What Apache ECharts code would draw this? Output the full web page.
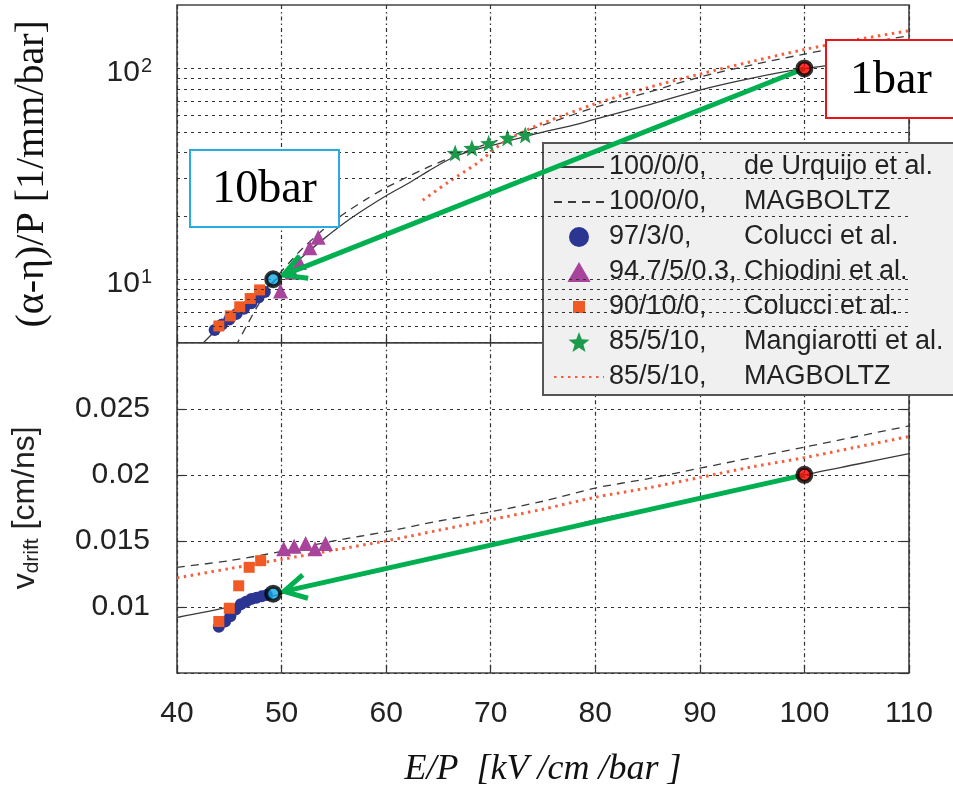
<!DOCTYPE html>
<html>
<head>
<meta charset="utf-8">
<script src="https://cdn.jsdelivr.net/npm/echarts@6/dist/echarts.min.js"></script>
<style>
html,body{margin:0;padding:0;background:#fff}
#chart{width:953px;height:789px}
</style>
</head>
<body>
<div id="chart"></div>
<script>
// ---- axis ranges / ticks ----
const xTicks = [40, 50, 60, 70, 80, 90, 100, 110];
const topGridValues = [6, 7, 8, 9, 10, 20, 30, 40, 50, 60, 70, 80, 90, 100];
const vTicks = [0.005, 0.010, 0.015, 0.020, 0.025, 0.030];

// ---- legend entries: gas mixture, source ----
const legendCodes = ['100/0/0,', '100/0/0,', '97/3/0,', '94.7/5/0.3,', '90/10/0,', '85/5/10,', '85/5/10,'];
const legendRefs = ['de Urquijo et al.', 'MAGBOLTZ', 'Colucci et al.', 'Chiodini et al.', 'Colucci et al.', 'Mangiarotti et al.', 'MAGBOLTZ'];

// ---- (alpha-eta)/P [1/mm/bar] vs E/P ----
const alphaUrquijo = [[42.0,4.7],[44,5.9],[46,7.2],[48,8.7],[50,10.5],[52,12.8],[54,15.5],[56,18.5],[58,21.6],[60,24.9],[62,28.3],[64,32.5],[66,37],[68,40.5],[70,43],[74,48.5],[78,54],[80,57.5],[85,67],[90,79],[95,90],[100,100],[105,107],[110,114]];
const alphaMagPure = [[45.6,4.8],[46.8,6.2],[47.8,7.6],[48.8,9.0],[49.8,10.6],[51,12.4],[52,14],[54,17.2],[56,20.5],[58,23.8],[60,27.2],[64,34],[68,41],[72,48],[76,56],[80,65.5],[85,77],[90,91],[95,104],[100,117],[105,130],[110,143]];
const alphaMagMix = [[63.5,23.7],[66,29],[68.7,35.5],[71.2,44.5],[74,52.5],[77,60],[80,68],[85,81],[90,94],[95,108],[100,123],[105,137],[110,151]];
const alphaColucci97 = [[43.6,5.75],[44.3,6.1],[45.0,6.45],[45.7,6.85],[46.4,7.25],[47.1,7.7],[47.8,8.2],[48.4,8.7]];
const alphaChiodini = [[49.9,8.8],[51.0,10.8],[51.7,12.0],[52.7,14.1],[53.5,15.8]];
const alphaColucci90 = [[44.0,6.0],[45.1,6.7],[46.0,7.4],[47.0,8.1],[47.9,8.9]];
const alphaMangiarotti = [[66.6,39.7],[68.2,41.9],[69.8,44.2],[71.6,46.8],[73.3,48.4]];

// ---- drift velocity [cm/ns] vs E/P ----
const vUrquijo = [[40,0.0092],[45,0.0100],[49,0.0108],[53,0.0116],[57,0.0123],[58,0.01245],[60,0.0128],[65,0.0138],[70,0.0147],[75,0.0155],[80,0.0166],[85,0.0174],[90,0.0182],[95,0.0191],[100,0.0200],[105,0.0208],[110,0.0216]];
const vMagPure = [[40,0.0130],[45,0.0135],[50,0.0142],[55,0.0150],[60,0.0157],[65,0.0165],[70,0.0172],[75,0.0180],[80,0.0190],[85,0.0197],[90,0.0205],[95,0.0213],[100,0.0221],[105,0.0229],[110,0.0237]];
const vMagMix = [[40,0.0122],[45,0.0129],[50,0.0136],[55,0.0143],[60,0.0150],[65,0.0158],[70,0.0166],[75,0.0174],[80,0.0183],[85,0.0190],[90,0.0198],[95,0.0206],[100,0.0213],[105,0.0221],[110,0.0229]];
const vColucci97 = [[44.0,0.0085],[44.6,0.0089],[45.1,0.0093],[45.6,0.0098],[46.1,0.0102],[46.6,0.0104],[47.1,0.0106],[47.6,0.0107],[48.1,0.0108],[48.6,0.0109]];
const vChiodini = [[50.2,0.0144],[51.2,0.0146],[52.3,0.0148],[53.2,0.0144],[54.2,0.0148]];
const vColucci90 = [[44.0,0.0089],[45.0,0.0099],[45.9,0.0116],[46.9,0.0130],[48.0,0.0135]];

// ---- 1 bar -> 10 bar working points ----
const alphaArrow = [[100, 100, 49.2, 10]];
const vArrow = [[100, 0.020, 49.2, 0.011]];
const alphaAt1bar = [[100, 100]];
const alphaAt10bar = [[49.2, 10]];
const vAt1bar = [[100, 0.020]];
const vAt10bar = [[49.2, 0.011]];

const names = legendCodes.map((c, i) => c + ' ' + legendRefs[i]);

const C = {
  frame: '#444', grid: '#333', curve: '#3a3a3a',
  blue: '#2b3592', purple: '#a8449b', orange: '#f15a24', green: '#1d9a4b',
  dotted: '#f2603f', arrow: '#00b050'
};

const starPath = 'path://M10,0 L12.6,7 L20,7.3 L14.2,11.9 L16.2,19 L10,14.9 L3.8,19 L5.8,11.9 L0,7.3 L7.4,7 Z';
const trianglePath = 'path://M11,0 L22,19 L0,19 Z';
const legendSquare = 'path://M0,0 M20,20 M4,4 L16,4 L16,16 L4,16 Z';
const legendIcons = [null, null, 'circle', trianglePath, legendSquare, starPath, null];

function arrowItem(params, api) {
  const a = api.coord([api.value(0), api.value(1)]);
  const b = api.coord([api.value(2), api.value(3)]);
  const dx = a[0] - b[0], dy = a[1] - b[1];
  const len = Math.hypot(dx, dy);
  const ux = dx / len, uy = dy / len;
  const tip = [b[0] + ux * 11, b[1] + uy * 11];
  const ang = 0.5, L = 25;
  const rot = (x, y, t) => [x * Math.cos(t) - y * Math.sin(t), x * Math.sin(t) + y * Math.cos(t)];
  const w1 = rot(ux, uy, ang), w2 = rot(ux, uy, -ang);
  const st = { stroke: C.arrow, lineWidth: 5, fill: null, lineJoin: 'miter' };
  return {
    type: 'group',
    children: [
      { type: 'line', shape: { x1: a[0], y1: a[1], x2: tip[0], y2: tip[1] }, style: st },
      { type: 'polyline', shape: { points: [[tip[0] + w1[0] * L, tip[1] + w1[1] * L], tip, [tip[0] + w2[0] * L, tip[1] + w2[1] * L]] }, style: st }
    ]
  };
}

function lineSeries(name, data, g, style) {
  return Object.assign({
    name, type: 'line', xAxisIndex: g, yAxisIndex: g, data,
    symbol: 'none', smooth: 0.3, z: 2, silent: true
  }, style);
}
function scatterSeries(name, data, g, symbol, size, color) {
  return { name, type: 'scatter', xAxisIndex: g, yAxisIndex: g, data, symbol, symbolSize: size, z: 3, silent: true, itemStyle: { color, opacity: 1 } };
}

const solidStyle = { lineStyle: { color: C.curve, width: 1.3 }, itemStyle: { color: C.curve } };
const dashStyle = { lineStyle: { color: C.curve, width: 1.3, type: [8, 6] }, itemStyle: { color: C.curve } };
const dotStyle = { lineStyle: { color: C.dotted, width: 3, type: [2.5, 4.5] }, itemStyle: { color: C.dotted } };

const xCommon = {
  type: 'value', min: 40, max: 110, interval: 10,
  axisLine: { show: false },
  axisTick: { show: true, inside: true, length: 8, lineStyle: { color: C.grid, width: 1.2 } },
  splitLine: { show: true, lineStyle: { color: C.grid, width: 1.2, type: [4, 3, 1.5, 3] } }
};

const option = {
  animation: false,
  backgroundColor: '#fff',
  textStyle: { fontFamily: 'Liberation Sans' },
  grid: [
    { left: 177, top: 5, width: 732, height: 337.7, show: true, borderColor: C.frame, borderWidth: 1.6, backgroundColor: 'transparent', outerBoundsMode: 'none' },
    { left: 177, top: 342.7, width: 732, height: 330.3, show: true, borderColor: C.frame, borderWidth: 1.6, backgroundColor: 'transparent', outerBoundsMode: 'none' }
  ],
  legend: {
    orient: 'vertical', left: 543, top: 143,
    padding: [9, 10, 3, 10], itemGap: 5, itemWidth: 50, itemHeight: 20,
    backgroundColor: '#f0f0f0', borderColor: '#555', borderWidth: 2,
    selectedMode: false, z: 4,
    data: names.map((n, i) => legendIcons[i]
      ? { name: n, icon: legendIcons[i] }
      : { name: n, itemStyle: { opacity: 0 } }),
    formatter: (n) => {
      const i = names.indexOf(n);
      return '{a|' + legendCodes[i] + '}{b|' + legendRefs[i] + '}';
    },
    textStyle: {
      fontSize: 27, color: '#222', lineHeight: 30, fontFamily: 'Liberation Sans',
      rich: {
        a: { width: 135, fontSize: 27, lineHeight: 30, color: '#222', fontFamily: 'Liberation Sans' },
        b: { width: 200, fontSize: 27, lineHeight: 30, color: '#222', fontFamily: 'Liberation Sans' }
      }
    }
  },
  xAxis: [
    Object.assign({ gridIndex: 0, axisLabel: { show: false } }, xCommon),
    Object.assign({
      gridIndex: 1,
      axisLabel: { show: true, fontSize: 30, margin: 26, color: '#222', fontFamily: 'Liberation Sans' },
      name: 'E/P  [kV /cm /bar ]', nameLocation: 'middle', nameGap: 79,
      nameTextStyle: { fontFamily: 'Liberation Serif', fontStyle: 'italic', fontSize: 36, color: '#111' }
    }, xCommon)
  ],
  yAxis: [
    {
      gridIndex: 0, type: 'log', logBase: 10, min: 5, max: 200,
      axisLine: { show: false }, axisTick: { show: false }, splitLine: { show: false },
      axisLabel: {
        showMinLabel: false, showMaxLabel: false, margin: 25, color: '#222',
        formatter: (v) => {
          const e = Math.round(Math.log10(v));
          return '{b|10}{s|' + e + '}';
        },
        rich: {
          b: { fontSize: 30, fontFamily: 'Liberation Sans', color: '#222', padding: [8, 0, 0, 0] },
          s: { fontSize: 20, fontFamily: 'Liberation Sans', color: '#222', padding: [0, 0, 4, 1] }
        }
      },
      name: '(α-η)/P [1/mm/bar]', nameLocation: 'middle', nameGap: 125,
      nameTextStyle: { fontFamily: 'Liberation Serif', fontSize: 40, color: '#111' }
    },
    {
      gridIndex: 1, type: 'value', min: 0.005, max: 0.030, interval: 0.005,
      axisLine: { show: false },
      axisTick: { show: true, inside: true, length: 8, lineStyle: { color: C.grid, width: 1.2 } },
      splitLine: { show: true, lineStyle: { color: C.grid, width: 1.2, type: [3, 4] } },
      axisLabel: {
        showMinLabel: false, showMaxLabel: false, margin: 27, fontSize: 30, color: '#222', fontFamily: 'Liberation Sans',
        formatter: (v) => String(+v.toFixed(3))
      },
      name: 'v{sub|drift} [cm/ns]', nameLocation: 'middle', nameGap: 134,
      nameTextStyle: {
        fontFamily: 'Liberation Sans', fontSize: 32, color: '#222',
        rich: { sub: { fontSize: 21, fontFamily: 'Liberation Sans', color: '#222', padding: [14, 0, 0, 0] } }
      }
    },
    {
      gridIndex: 1, type: 'value', position: 'right', min: 0.005, max: 0.030, interval: 0.005,
      axisLine: { show: false }, axisLabel: { show: false }, splitLine: { show: false },
      axisTick: { show: true, inside: true, length: 8, lineStyle: { color: C.grid, width: 1.2 } }
    }
  ],
  series: [
    // horizontal decade / sub-decade grid of the log panel
    {
      type: 'line', xAxisIndex: 0, yAxisIndex: 0, data: [], silent: true, z: 1,
      markLine: {
        silent: true, symbol: ['none', 'none'], label: { show: false }, animation: false,
        lineStyle: { color: C.grid, width: 1.2, type: [3, 4] },
        emphasis: { disabled: true },
        data: topGridValues.map(v => ({ yAxis: v }))
      }
    },
    // upper panel
    lineSeries(names[0], alphaUrquijo, 0, solidStyle),
    lineSeries(names[1], alphaMagPure, 0, dashStyle),
    scatterSeries(names[2], alphaColucci97, 0, 'circle', 12, C.blue),
    scatterSeries(names[3], alphaChiodini, 0, 'triangle', 15, C.purple),
    scatterSeries(names[4], alphaColucci90, 0, 'rect', 11, C.orange),
    scatterSeries(names[5], alphaMangiarotti, 0, starPath, 17, C.green),
    lineSeries(names[6], alphaMagMix, 0, dotStyle),
    // lower panel
    lineSeries(names[0], vUrquijo, 1, solidStyle),
    lineSeries(names[1], vMagPure, 1, dashStyle),
    lineSeries(names[6], vMagMix, 1, dotStyle),
    scatterSeries(names[2], vColucci97, 1, 'circle', 12, C.blue),
    scatterSeries(names[3], vChiodini, 1, 'triangle', 15, C.purple),
    scatterSeries(names[4], vColucci90, 1, 'rect', 11, C.orange),
    // 1 bar -> 10 bar arrows
    { type: 'custom', coordinateSystem: 'cartesian2d', xAxisIndex: 0, yAxisIndex: 0, z: 5, silent: true,
      data: alphaArrow, encode: { x: [0, 2], y: [1, 3] }, renderItem: arrowItem },
    { type: 'custom', coordinateSystem: 'cartesian2d', xAxisIndex: 1, yAxisIndex: 1, z: 5, silent: true,
      data: vArrow, encode: { x: [0, 2], y: [1, 3] }, renderItem: arrowItem },
    // working points
    { type: 'scatter', xAxisIndex: 0, yAxisIndex: 0, data: alphaAt1bar, symbolSize: 14, z: 6, silent: true,
      itemStyle: { color: '#ff0000', borderColor: '#000', borderWidth: 4 } },
    { type: 'scatter', xAxisIndex: 0, yAxisIndex: 0, data: alphaAt10bar, symbolSize: 14, z: 6, silent: true,
      itemStyle: { color: '#12a8e6', borderColor: '#000', borderWidth: 4 } },
    { type: 'scatter', xAxisIndex: 1, yAxisIndex: 1, data: vAt1bar, symbolSize: 14, z: 6, silent: true,
      itemStyle: { color: '#ff0000', borderColor: '#000', borderWidth: 4 } },
    { type: 'scatter', xAxisIndex: 1, yAxisIndex: 1, data: vAt10bar, symbolSize: 14, z: 6, silent: true,
      itemStyle: { color: '#12a8e6', borderColor: '#000', borderWidth: 4 } }
  ],
  graphic: [
    { type: 'rect', z: 100, shape: { x: 190, y: 150, width: 149, height: 77 },
      style: { fill: '#fff', stroke: '#29abe2', lineWidth: 2 } },
    { type: 'text', z: 101, x: 264.5, y: 190,
      style: { text: '10bar', font: '46px "Liberation Serif"', fill: '#000', align: 'center', verticalAlign: 'middle' } },
    { type: 'rect', z: 100, shape: { x: 826, y: 40, width: 140, height: 78 },
      style: { fill: '#fff', stroke: '#e8141b', lineWidth: 2 } },
    { type: 'text', z: 101, x: 850, y: 81,
      style: { text: '1bar', font: '46px "Liberation Serif"', fill: '#000', align: 'left', verticalAlign: 'middle' } }
  ]
};

const chart = echarts.init(document.getElementById('chart'), null, { renderer: 'canvas' });
chart.setOption(option);
</script>
</body>
</html>
